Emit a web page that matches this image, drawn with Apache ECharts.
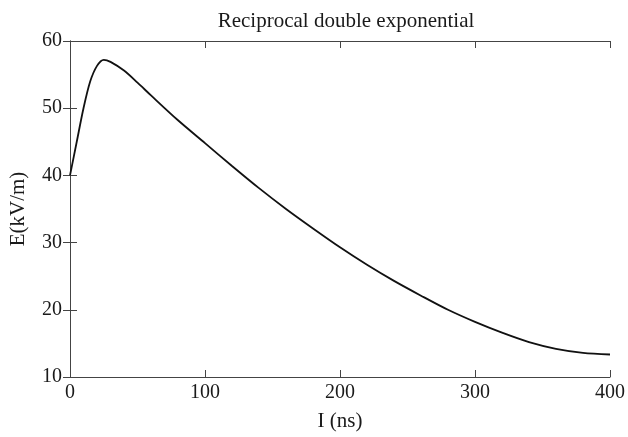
<!DOCTYPE html>
<html><head><meta charset="utf-8">
<script src="https://cdn.jsdelivr.net/npm/echarts@6/dist/echarts.min.js"></script>
<style>html,body{margin:0;padding:0;background:#fff}#c{width:628px;height:437px}</style>
</head><body><div id="c"></div>
<script>
const titleText = "Reciprocal double exponential";
const xName = "I (ns)";
const yName = "E(kV/m)";
const timeNs = [0,5,10,15,20,25,30,40,50,60,80,100,120,140,160,180,200,220,240,260,280,300,320,340,360,380,400];
const fieldKVm = [40.0,45.0,50.0,54.0,56.3,57.2,56.9,55.6,53.8,51.9,48.2,44.8,41.4,38.1,35.0,32.1,29.3,26.7,24.3,22.1,20.0,18.2,16.6,15.2,14.2,13.6,13.35];
const xTicks = [0,100,200,300,400];
const yTicks = [10,20,30,40,50,60];

const font = "'Liberation Serif','DejaVu Serif',serif";
const axisCol = '#444';
const txtCol = '#1a1a1a';
const data = timeNs.map((t,i)=>[t, fieldKVm[i]]);
const chart = echarts.init(document.getElementById('c'), null, {renderer:'canvas'});
const baseX = {type:'value', min:xTicks[0], max:xTicks[xTicks.length-1], interval:100,
  axisLine:{show:true,lineStyle:{color:axisCol,width:1}}, splitLine:{show:false},
  axisTick:{show:true,inside:true,length:7,lineStyle:{color:axisCol}}};
const baseY = {type:'value', min:yTicks[0], max:yTicks[yTicks.length-1], interval:10,
  axisLine:{show:true,lineStyle:{color:axisCol,width:1}}, splitLine:{show:false},
  axisTick:{show:true,inside:true,length:7,lineStyle:{color:axisCol}}};
chart.setOption({
  animation:false,
  backgroundColor:'#fff',
  title:{text:titleText, left:341, textAlign:'center', top:6,
    textStyle:{fontFamily:font, fontSize:21, fontWeight:'normal', color:txtCol}},
  grid:{left:70, right:15, top:41, bottom:57, containLabel:false},
  xAxis:[
    Object.assign({}, baseX, {position:'bottom', name:xName, nameLocation:'middle', nameGap:34,
      nameTextStyle:{fontFamily:font, fontSize:21, color:txtCol},
      axisLabel:{fontFamily:font, fontSize:20, color:txtCol, margin:6}}),
    Object.assign({}, baseX, {position:'top', axisLabel:{show:false}})
  ],
  yAxis:[
    Object.assign({}, baseY, {position:'left', name:yName, nameLocation:'middle', nameGap:41, nameRotate:90,
      nameTextStyle:{fontFamily:font, fontSize:21, color:txtCol},
      axisLabel:{fontFamily:font, fontSize:20, color:txtCol, margin:8}}),
    Object.assign({}, baseY, {position:'right', axisLabel:{show:false}})
  ],
  series:[{type:'line', data:data, xAxisIndex:0, yAxisIndex:0, smooth:0.3, showSymbol:false,
    lineStyle:{color:'#111', width:1.8}}]
});
</script></body></html>
